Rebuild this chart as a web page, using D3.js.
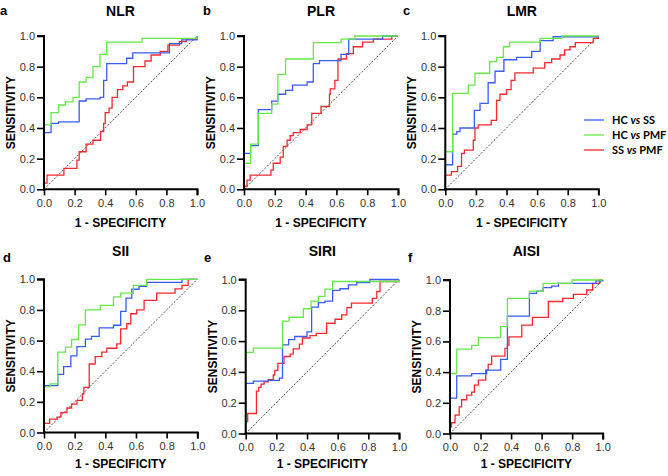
<!DOCTYPE html>
<html><head><meta charset="utf-8">
<script src="https://cdn.jsdelivr.net/npm/d3@7"></script>
<style>
body{margin:0;background:#fff;}
svg{display:block;}
.tick text{font-family:"Liberation Sans",Arial,sans-serif;font-size:11px;fill:#333;}
</style></head>
<body><svg id="chart" width="668" height="476"></svg>
<script>
// ---------- DATA ----------
const panelTitles = ["NLR","PLR","LMR","SII","SIRI","AISI"];
const panelLetters = ["a","b","c","d","e","f"];
const seriesNames = ["HC vs SS","HC vs PMF","SS vs PMF"];
const tickValues = [0,0.2,0.4,0.6,0.8,1.0];

// each series: [1 - specificity, sensitivity] step vertices
const nlrHCvsSS = [[0,0],[0,0.37],[0.046,0.43],[0.095,0.44],[0.23,0.576],[0.275,0.59],[0.366,0.60],[0.39,0.71],[0.41,0.82],[0.54,0.855],[0.58,0.89],[0.82,0.95],[0.9,0.975],[1,1]];
const nlrHCvsPMF = [[0,0],[0,0.42],[0.046,0.50],[0.095,0.55],[0.14,0.57],[0.19,0.60],[0.23,0.70],[0.275,0.73],[0.32,0.80],[0.366,0.88],[0.41,0.96],[0.64,0.985],[1,1]];
const nlrSSvsPMF = [[0,0],[0,0.04],[0.02,0.093],[0.13,0.137],[0.215,0.19],[0.23,0.245],[0.275,0.295],[0.32,0.32],[0.37,0.376],[0.39,0.43],[0.40,0.50],[0.425,0.53],[0.445,0.6],[0.48,0.65],[0.515,0.675],[0.545,0.70],[0.585,0.80],[0.66,0.837],[0.70,0.876],[0.76,0.90],[0.81,0.94],[0.885,0.963],[0.93,0.98],[1,1]];

const plrHCvsSS = [[0,0],[0,0.234],[0.043,0.285],[0.093,0.52],[0.18,0.575],[0.22,0.62],[0.27,0.645],[0.315,0.68],[0.41,0.70],[0.45,0.82],[0.49,0.84],[0.63,0.88],[0.68,0.98],[0.9,1.0],[1,1]];
const plrHCvsPMF = [[0,0],[0,0.17],[0.043,0.295],[0.093,0.495],[0.18,0.555],[0.22,0.75],[0.27,0.85],[0.45,0.957],[0.63,0.98],[0.72,1.0],[1,1]];
const plrSSvsPMF = [[0,0],[0,0.02],[0.02,0.06],[0.04,0.093],[0.175,0.125],[0.19,0.17],[0.235,0.21],[0.255,0.28],[0.28,0.32],[0.30,0.35],[0.32,0.37],[0.365,0.39],[0.41,0.42],[0.44,0.495],[0.50,0.54],[0.555,0.62],[0.56,0.655],[0.59,0.71],[0.61,0.85],[0.665,0.885],[0.71,0.93],[0.77,0.96],[0.84,0.98],[0.96,1.0],[1,1]];

const lmrHCvsSS = [[0,0],[0,0.16],[0.048,0.36],[0.075,0.376],[0.096,0.40],[0.19,0.515],[0.227,0.56],[0.28,0.695],[0.325,0.77],[0.383,0.845],[0.466,0.86],[0.565,0.90],[0.62,0.97],[0.705,0.995],[1,1]];
const lmrHCvsPMF = [[0,0],[0,0.245],[0.048,0.626],[0.15,0.68],[0.194,0.757],[0.29,0.833],[0.335,0.86],[0.38,0.93],[0.42,0.96],[0.62,0.985],[0.76,1.0],[1,1]];
const lmrSSvsPMF = [[0,0],[0,0.093],[0.04,0.115],[0.08,0.15],[0.106,0.235],[0.125,0.255],[0.183,0.32],[0.194,0.40],[0.215,0.42],[0.30,0.45],[0.335,0.58],[0.357,0.62],[0.40,0.65],[0.43,0.71],[0.455,0.76],[0.575,0.79],[0.65,0.826],[0.695,0.85],[0.75,0.876],[0.78,0.91],[0.815,0.93],[0.85,0.957],[0.967,0.985],[1,1]];

const siiHCvsSS = [[0,0],[0,0.306],[0.09,0.38],[0.128,0.43],[0.175,0.50],[0.215,0.56],[0.27,0.61],[0.31,0.627],[0.36,0.683],[0.453,0.70],[0.5,0.79],[0.535,0.877],[0.573,0.935],[0.62,0.954],[0.67,0.98],[0.9,1.0],[1,1]];
const siiHCvsPMF = [[0,0],[0,0.30],[0.04,0.317],[0.09,0.524],[0.14,0.557],[0.18,0.607],[0.225,0.703],[0.27,0.80],[0.367,0.83],[0.453,0.885],[0.5,0.91],[0.583,0.96],[0.67,1.0],[1,1]];
const siiSSvsPMF = [[0,0],[0,0.06],[0.037,0.087],[0.085,0.10],[0.11,0.13],[0.15,0.16],[0.18,0.185],[0.215,0.21],[0.25,0.25],[0.26,0.295],[0.295,0.447],[0.334,0.495],[0.377,0.524],[0.41,0.55],[0.475,0.578],[0.5,0.677],[0.54,0.71],[0.566,0.775],[0.605,0.80],[0.653,0.862],[0.735,0.91],[0.855,0.937],[0.9,0.96],[0.94,1.0],[1,1]];

const siriHCvsSS = [[0,0],[0,0.325],[0.05,0.34],[0.147,0.345],[0.22,0.36],[0.24,0.575],[0.28,0.61],[0.32,0.63],[0.4,0.66],[0.43,0.82],[0.474,0.85],[0.517,0.86],[0.567,0.93],[0.615,0.94],[0.67,0.965],[0.724,0.98],[0.81,1.0],[1,1]];
const siriHCvsPMF = [[0,0],[0,0.527],[0.05,0.555],[0.24,0.73],[0.283,0.755],[0.376,0.81],[0.426,0.86],[0.474,0.89],[0.517,0.937],[0.567,0.987],[1,1]];
const siriSSvsPMF = [[0,0],[0,0.077],[0.013,0.13],[0.07,0.275],[0.085,0.30],[0.10,0.32],[0.12,0.335],[0.147,0.35],[0.18,0.38],[0.19,0.41],[0.21,0.455],[0.25,0.50],[0.29,0.515],[0.31,0.55],[0.35,0.58],[0.37,0.62],[0.42,0.635],[0.46,0.65],[0.528,0.716],[0.583,0.742],[0.626,0.77],[0.66,0.818],[0.69,0.846],[0.826,0.878],[0.855,0.922],[0.876,0.987],[1,1]];

const aisiHCvsSS = [[0,0],[0,0.23],[0.044,0.376],[0.142,0.39],[0.24,0.413],[0.332,0.483],[0.376,0.765],[0.52,0.913],[0.567,0.928],[0.61,0.95],[0.666,0.96],[0.71,0.978],[0.956,0.995],[1,1]];
const aisiHCvsPMF = [[0,0],[0,0.39],[0.044,0.55],[0.142,0.574],[0.186,0.624],[0.332,0.696],[0.376,0.88],[0.52,0.928],[0.61,0.978],[0.8,1.0],[1,1]];
const aisiSSvsPMF = [[0,0],[0,0.043],[0.01,0.07],[0.033,0.12],[0.06,0.174],[0.076,0.22],[0.11,0.25],[0.142,0.27],[0.16,0.315],[0.186,0.348],[0.234,0.413],[0.25,0.45],[0.273,0.504],[0.36,0.554],[0.376,0.576],[0.386,0.63],[0.47,0.706],[0.54,0.756],[0.644,0.86],[0.738,0.88],[0.808,0.907],[0.895,0.935],[0.934,0.978],[0.98,1.0],[1,1]];

const panelSeries = [
  [nlrHCvsSS, nlrHCvsPMF, nlrSSvsPMF],
  [plrHCvsSS, plrHCvsPMF, plrSSvsPMF],
  [lmrHCvsSS, lmrHCvsPMF, lmrSSvsPMF],
  [siiHCvsSS, siiHCvsPMF, siiSSvsPMF],
  [siriHCvsSS, siriHCvsPMF, siriSSvsPMF],
  [aisiHCvsSS, aisiHCvsPMF, aisiSSvsPMF]
];

// ---------- LAYOUT / STYLE ----------
const colors = ["#3a5cf6","#66e84a","#f22a2f"];
const drawOrder = [2,0,1];
const layout = [
  {x0:44, x1:197, y0:36, y1:189.3, lx:0, ly:15, xl:227},
  {x0:244, x1:398, y0:36, y1:189.3, lx:203, ly:15, xl:227},
  {x0:445.3, x1:598.3, y0:36, y1:189.3, lx:403, ly:15, xl:227},
  {x0:44, x1:197.3, y0:279.3, y1:432.5, lx:3, ly:262, xl:467.5},
  {x0:245.7, x1:399, y0:279.5, y1:433.5, lx:204, ly:262, xl:467.5},
  {x0:450, x1:602.7, y0:280, y1:433.5, lx:408, ly:262, xl:467.5}
];

const svg = d3.select("#chart");
const fmt = d3.format(".1f");

layout.forEach((L, i) => {
  const x = d3.scaleLinear().domain([0,1]).range([L.x0, L.x1]);
  const y = d3.scaleLinear().domain([0,1]).range([L.y1, L.y0]);
  const g = svg.append("g");

  // diagonal reference
  g.append("line")
    .attr("x1", x(0)).attr("y1", y(0)).attr("x2", x(1)).attr("y2", y(1))
    .attr("stroke","#222").attr("stroke-width",0.8).attr("stroke-dasharray","2,1.6");

  const line = d3.line().x(d => x(d[0])).y(d => y(d[1])).curve(d3.curveStepAfter);
  drawOrder.forEach(s => {
    g.append("path").datum(panelSeries[i][s])
      .attr("d", line).attr("fill","none")
      .attr("stroke", colors[s]).attr("stroke-width",1.3);
  });

  // axes
  const xa = g.append("g").attr("transform",`translate(0,${L.y1})`)
    .call(d3.axisBottom(x).tickValues(tickValues).tickFormat(fmt).tickSize(6).tickPadding(4));
  const ya = g.append("g").attr("transform",`translate(${L.x0},0)`)
    .call(d3.axisLeft(y).tickValues(tickValues).tickFormat(fmt).tickSize(7).tickPadding(2));
  [xa, ya].forEach(a => {
    a.select(".domain").attr("stroke","#000").attr("stroke-width",2);
    a.selectAll(".tick line").attr("stroke","#000").attr("stroke-width",1.6);
  });
  xa.select(".domain").attr("d", `M${L.x0-1},0H${L.x1+0.5}V6`);
  ya.select(".domain").attr("d", `M-7,${L.y0}H0V${L.y1+1}`);

  // titles
  svg.append("text").attr("x",(L.x0+L.x1)/2).attr("y", i<3 ? 15.5 : 256)
    .attr("text-anchor","middle")
    .attr("font-family","Liberation Sans, Arial, sans-serif")
    .attr("font-weight","bold").attr("font-size",14).text(panelTitles[i]);
  svg.append("text").attr("x",L.lx).attr("y",L.ly)
    .attr("font-family","Liberation Sans, Arial, sans-serif")
    .attr("font-weight","bold").attr("font-size",13).text(panelLetters[i]);
  svg.append("text").attr("x",(L.x0+L.x1)/2).attr("y", L.xl)
    .attr("text-anchor","middle")
    .attr("font-family","Liberation Sans, Arial, sans-serif")
    .attr("font-weight","bold").attr("font-size",12).text("1 - SPECIFICITY");
  svg.append("text")
    .attr("transform",`translate(${L.x0-29},${(L.y0+L.y1)/2}) rotate(-90)`)
    .attr("text-anchor","middle")
    .attr("font-family","Liberation Sans, Arial, sans-serif")
    .attr("font-weight","bold").attr("font-size",12).text("SENSITIVITY");
});

// legend
const legY = [120,135,150];
seriesNames.forEach((name, s) => {
  svg.append("line").attr("x1",584).attr("x2",604).attr("y1",legY[s]).attr("y2",legY[s])
    .attr("stroke",colors[s]).attr("stroke-width",1.3);
  const parts = name.split(" vs ");
  const t = svg.append("text").attr("x",612).attr("y",legY[s]+4)
    .attr("font-family","Lato, 'Open Sans', sans-serif")
    .attr("font-weight","bold").attr("font-size",11);
  t.append("tspan").text(parts[0] + " ");
  t.append("tspan").attr("font-style","italic").text("vs");
  t.append("tspan").text(" " + parts[1]);
});
</script></body></html>
